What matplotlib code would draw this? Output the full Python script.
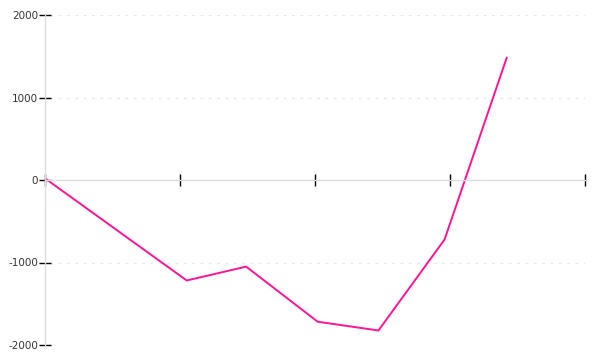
import matplotlib
matplotlib.use("Agg")
import matplotlib.pyplot as plt

# data
x_vals = [0.0, 1.05, 1.49, 2.02, 2.47, 2.96, 3.42]
y_vals = [20, -1218, -1050, -1718, -1824, -721, 1481]
y_ticks = [-2000, -1000, 0, 1000, 2000]
x_ticks = [0, 1, 2, 3, 4]

fig = plt.figure(figsize=(6, 3.6), dpi=100)
ax = fig.add_axes([45/600, (360-345)/360, (585-45)/600, (345-15)/360])

ax.plot(x_vals, y_vals, color="#ff1493", linewidth=1.4, solid_joinstyle="miter")

ax.set_xlim(0, 4)
ax.set_ylim(-2000, 2000)
ax.set_yticks(y_ticks)
ax.set_yticklabels([str(v) for v in y_ticks], fontsize=7.5, color="#333333")
ax.set_xticks(x_ticks)
ax.set_xticklabels([])

for s in ["top", "right"]:
    ax.spines[s].set_visible(False)
ax.spines["bottom"].set_position(("data", 0))
ax.spines["bottom"].set_color("#dddddd")
ax.spines["left"].set_color("#dddddd")
ax.spines["bottom"].set_linewidth(1)
ax.spines["left"].set_linewidth(1)

ax.tick_params(axis="x", direction="inout", length=8, width=1, color="black")
ax.tick_params(axis="y", direction="inout", length=9, width=1, color="black", pad=0.5)

for v in y_ticks:
    if v == 0:
        continue
    ax.axhline(v, xmin=5/540, xmax=1, color="#e8e8e8", linewidth=1,
               linestyle=(0, (2, 4)), zorder=0)

fig.savefig("out.png", dpi=100)
